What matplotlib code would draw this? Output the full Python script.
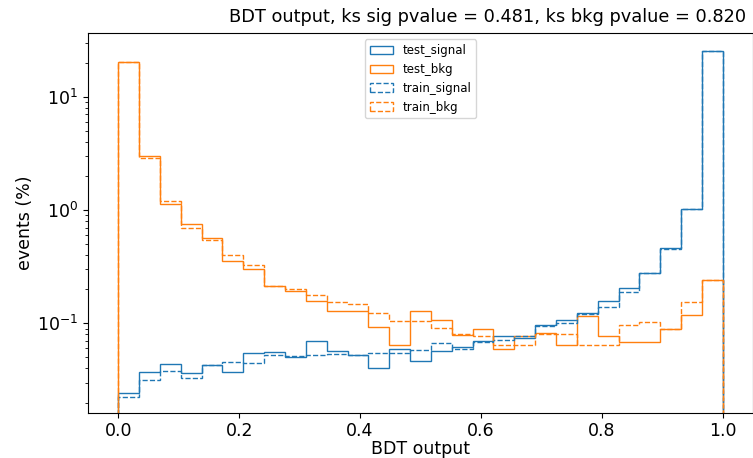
import numpy as np
import matplotlib
matplotlib.use("Agg")
import matplotlib.pyplot as plt

# 29 equal bins over the BDT score range
edges = np.linspace(0.0, 1.0, 30)
centers = 0.5 * (edges[:-1] + edges[1:])

# per-bin fractions of events (%)
test_signal = [0.0242, 0.0371, 0.0436, 0.0363, 0.0428, 0.0371, 0.0546, 0.0557, 0.0503, 0.0697,
               0.0569, 0.052, 0.0402, 0.0589, 0.0464, 0.057, 0.0617, 0.0693, 0.0767, 0.074,
               0.0973, 0.106, 0.124, 0.157, 0.203, 0.277, 0.464, 1.03, 25.4]
test_bkg = [20.3, 3.0, 1.13, 0.752, 0.562, 0.354, 0.30, 0.212, 0.193, 0.157,
            0.128, 0.128, 0.0927, 0.0639, 0.128, 0.108, 0.0783, 0.089, 0.059, 0.077,
            0.0827, 0.064, 0.116, 0.078, 0.068, 0.068, 0.090, 0.118, 0.239]
train_signal = [0.0226, 0.0319, 0.0381, 0.0328, 0.0432, 0.0458, 0.0446, 0.052, 0.051, 0.052,
                0.054, 0.053, 0.055, 0.055, 0.0577, 0.067, 0.059, 0.068, 0.0708, 0.078,
                0.094, 0.101, 0.122, 0.139, 0.189, 0.277, 0.455, 1.03, 25.4]
train_bkg = [20.3, 2.87, 1.2, 0.693, 0.543, 0.40, 0.326, 0.212, 0.199, 0.179,
             0.154, 0.149, 0.124, 0.105, 0.105, 0.0903, 0.080, 0.078, 0.065, 0.065,
             0.081, 0.080, 0.065, 0.065, 0.096, 0.102, 0.090, 0.153, 0.239]

ks_sig = 0.481
ks_bkg = 0.820

fig = plt.figure(figsize=(7.53, 4.58), dpi=100)
ax = fig.add_axes([88 / 753, 1 - 412.7 / 458, 1 - 88 / 753, (412.7 - 33.3) / 458])

ax.hist(centers, bins=edges, weights=test_signal, histtype="step", color="tab:blue",
        label="test_signal", log=True)
ax.hist(centers, bins=edges, weights=test_bkg, histtype="step", color="tab:orange",
        label="test_bkg", log=True)
ax.hist(centers, bins=edges, weights=train_signal, histtype="step", color="tab:blue",
        linestyle="--", label="train_signal", log=True)
ax.hist(centers, bins=edges, weights=train_bkg, histtype="step", color="tab:orange",
        linestyle="--", label="train_bkg", log=True)

ax.set_xlim(-0.05, 1.05)
ax.set_ylim(0.01626, 36.3)
ax.tick_params(labelsize=12.5)
ax.tick_params(axis="x", pad=3)
ax.set_xlabel("BDT output", fontsize=12.5, labelpad=0)
ax.set_ylabel("events (%)", fontsize=12.5, labelpad=2)
ax.set_title("BDT output, ks sig pvalue = %.3f, ks bkg pvalue = %.3f" % (ks_sig, ks_bkg),
             fontsize=12.8, x=0.6015, pad=8)
ax.legend(loc="upper center", fontsize=8.5)

fig.savefig("out.png", dpi=100)
